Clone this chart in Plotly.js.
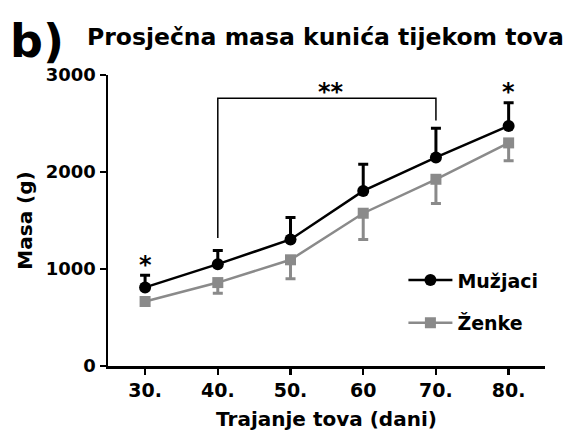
<!DOCTYPE html>
<html><head><meta charset="utf-8">
<script src="https://cdn.plot.ly/plotly-3.0.1.min.js"></script>
<style>html,body{margin:0;padding:0;background:#fff}#c{width:574px;height:434px}</style>
</head><body><div id="c"></div>
<script>
const days = ["30.", "40.", "50.", "60", "70.", "80."];
const maleMean = [810, 1050, 1305, 1805, 2150, 2475];
const maleSD = [125, 140, 225, 275, 300, 240];
const femaleMean = [665, 860, 1095, 1575, 1925, 2300];
const femaleSD = [40, 110, 195, 270, 250, 185];
const zeros = [0, 0, 0, 0, 0, 0];

const F = 'DejaVu Sans, Liberation Sans, sans-serif';
const gray = '#8a8a8a';

const traces = [
  {x: days, y: maleMean, name: 'Mužjaci', legendgroup: 'm', type: 'scatter', mode: 'lines+markers',
   line: {color: '#000', width: 2.5}, marker: {symbol: 'circle', size: 12, color: '#000'},
   error_y: {type: 'data', symmetric: false, array: maleSD, arrayminus: zeros, color: '#000', thickness: 3, width: 5}},
  {x: days, y: femaleMean, name: 'Ženke', legendgroup: 'f', type: 'scatter', mode: 'lines+markers',
   line: {color: gray, width: 2.5}, marker: {symbol: 'square', size: 11, color: gray},
   error_y: {type: 'data', symmetric: false, array: zeros, arrayminus: femaleSD, color: gray, thickness: 3, width: 5}}
];

const bracketTop = 2760;
const shapes = [
  {type: 'path', xref: 'x', yref: 'y',
   path: `M 1 ${maleMean[1] + maleSD[1] + 130} L 1 ${bracketTop} L 4 ${bracketTop} L 4 ${maleMean[4] + maleSD[4] + 80}`,
   line: {color: '#000', width: 1.5}}
];

const annotations = [
  {x: 0, y: maleMean[0] + maleSD[0] + 110, xref: 'x', yref: 'y', text: '<b>*</b>', showarrow: false, font: {family: F, size: 24, color: '#000'}},
  {x: 5, y: maleMean[5] + maleSD[5] + 110, xref: 'x', yref: 'y', text: '<b>*</b>', showarrow: false, font: {family: F, size: 24, color: '#000'}},
  {x: 2.55, y: bracketTop + 60, xref: 'x', yref: 'y', text: '<b>**</b>', showarrow: false, font: {family: F, size: 24, color: '#000'}},
  {x: -100/437, y: (366-41)/291, xref: 'paper', yref: 'paper', text: '<b>b)</b>', showarrow: false, xanchor: 'left', yanchor: 'middle',
   font: {family: F, size: 46, color: '#000'}},
];

const layout = {
  width: 574, height: 434,
  margin: {l: 108, r: 29, t: 75, b: 68},
  paper_bgcolor: '#fff', plot_bgcolor: '#fff',
  font: {family: F, color: '#000'},
  title: {text: '<b>Prosječna masa kunića tijekom tova</b>', font: {family: F, size: 23.5, color: '#000'},
          x: 87/574, xanchor: 'left', y: 1 - 37/434, yanchor: 'middle'},
  showlegend: true,
  legend: {x: 0.676, y: 0.36, xanchor: 'left', yanchor: 'top', font: {family: F, size: 19, color: '#000', weight: 'bold'},
           bgcolor: 'rgba(0,0,0,0)', itemwidth: 44, tracegroupgap: 15, traceorder: 'grouped'},
  xaxis: {type: 'category', range: [-0.51, 5.5], showline: true, linecolor: '#000', linewidth: 2.5,
          ticks: 'outside', ticklen: 6, tickwidth: 2.5, tickcolor: '#000', showgrid: false, zeroline: false,
          tickfont: {family: F, size: 19, color: '#000', weight: 'bold'},
          title: {text: '<b>Trajanje tova (dani)</b>', font: {family: F, size: 20, color: '#000'}, standoff: 12}},
  yaxis: {range: [0, 3000], tickvals: [0, 1000, 2000, 3000], showline: true, linecolor: '#000', linewidth: 2.5,
          ticks: 'outside', ticklen: 6, tickwidth: 2.5, tickcolor: '#000', showgrid: false, zeroline: false,
          tickfont: {family: F, size: 18, color: '#000', weight: 'bold'},
          title: {text: '<b>Masa (g)</b>', font: {family: F, size: 20, color: '#000'}, standoff: 8}},
  shapes: shapes,
  annotations: annotations
};

Plotly.newPlot('c', traces, layout, {displayModeBar: false, staticPlot: true});
</script></body></html>
